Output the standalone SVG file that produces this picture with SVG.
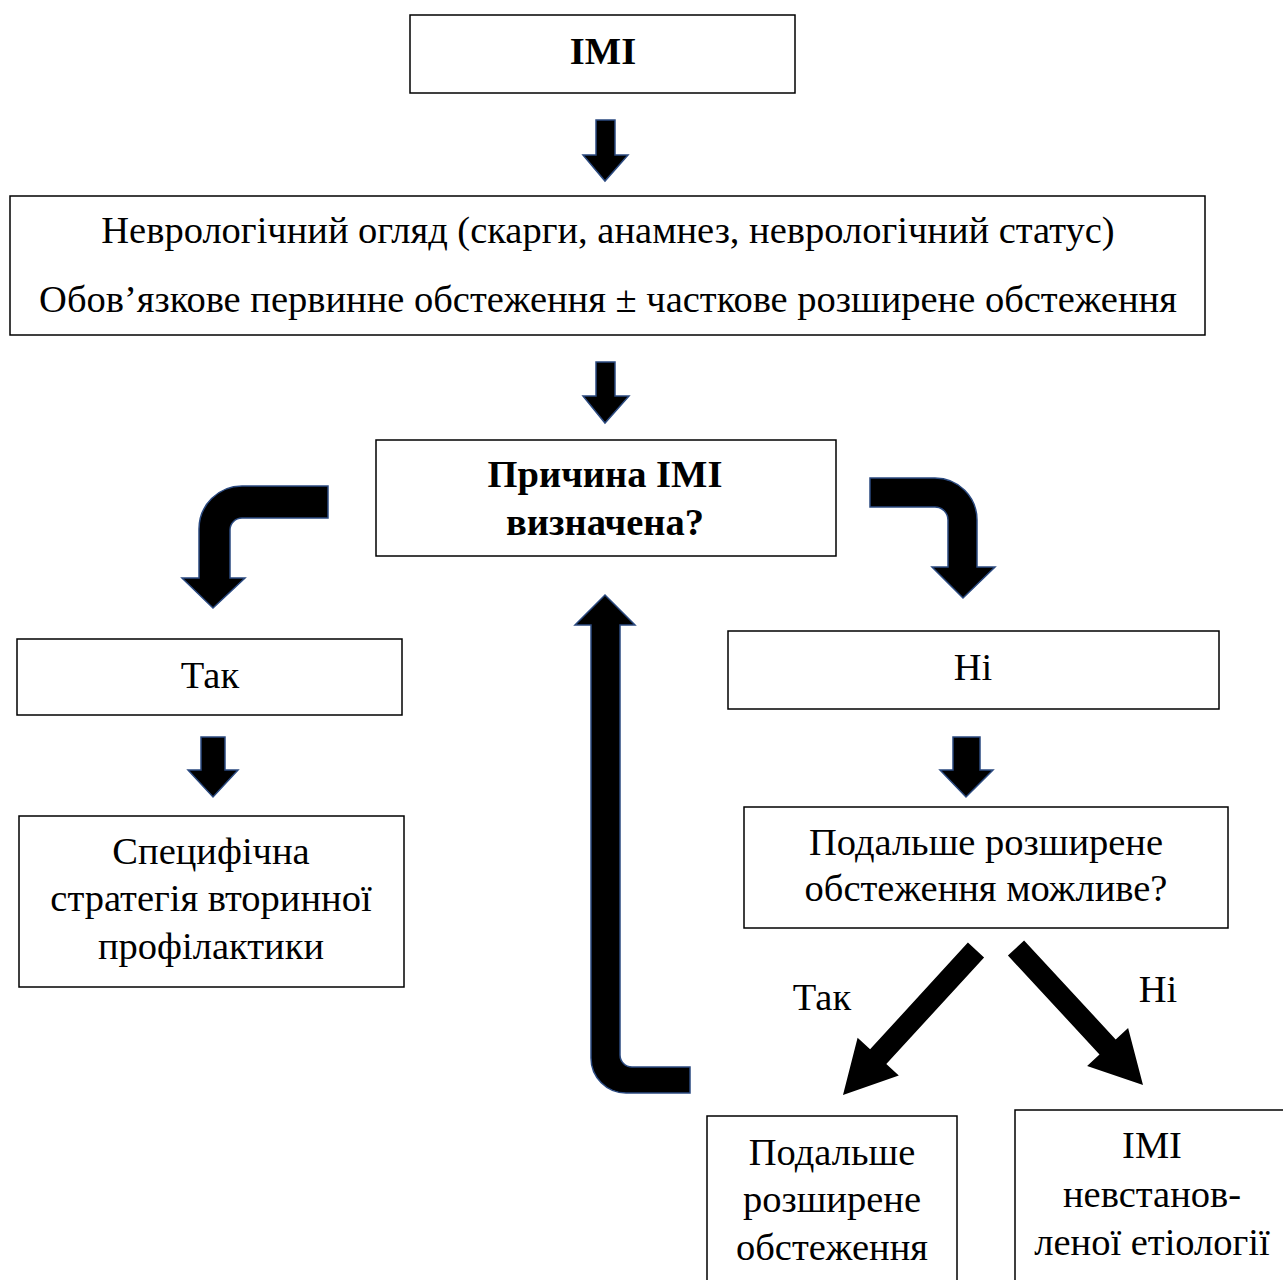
<svg xmlns="http://www.w3.org/2000/svg" width="1283" height="1280" viewBox="0 0 1283 1280">
<style>
.box{fill:#fff;stroke:#000;stroke-width:1.5}
.t{font-family:"Liberation Serif","Times New Roman",serif;font-size:38.5px;fill:#000;text-anchor:middle}
.b{font-weight:bold}
.ar{fill:#000;stroke:#2b4a80;stroke-width:1.5;stroke-linejoin:miter}
.da{fill:#000}
</style>
<rect width="1283" height="1280" fill="#fff"/>
<g id="connectors">
<polygon class="ar" points="596,120 615,120 615,155 628,155 605,181 583,155 596,155"/>
<polygon class="ar" points="596,362 615,362 615,396 629,396 605,423 583,396 596,396"/>
<path class="ar" d="M328 486 L242 486 A43 43 0 0 0 199 529 L199 578 L182 578 L213 608 L245 578 L230 578 L230 530 A12 12 0 0 1 242 518 L328 518 Z"/>
<path class="ar" d="M870 478 L935 478 A42 42 0 0 1 977 520 L977 567 L995 567 L963 598 L932 567 L948 567 L948 520 A13 13 0 0 0 935 507 L870 507 Z"/>
<path class="ar" d="M605 595 L635 625 L620 625 L620 1055 A12 12 0 0 0 632 1067 L690 1067 L690 1093 L626 1093 A35 35 0 0 1 591 1058 L591 625 L575 625 Z"/>
<polygon class="ar" points="201,737 225,737 225,770 238,770 213,797 188,770 201,770"/>
<polygon class="ar" points="953,737 980,737 980,770 993,770 966,797 940,770 953,770"/>
<polygon class="da" points="984.1,957.4 886.3,1064.1 898.8,1075.6 843,1095 857.6,1037.8 870.1,1049.3 967.9,942.6"/>
<polygon class="da" points="1024.1,940.5 1115.7,1039.4 1128.1,1027.9 1143,1085 1087.1,1065.9 1099.5,1054.4 1007.9,955.5"/>
<text class="t" x="822" y="1010">Так</text>
<text class="t" x="1158" y="1002">Ні</text>
</g>
<g id="n1"><rect class="box" x="410" y="15" width="385" height="78"/><text class="t b" x="603" y="64">ІМІ</text></g>
<g id="n2"><rect class="box" x="10" y="196" width="1195" height="139"/>
<text class="t" x="608" y="243">Неврологічний огляд (скарги, анамнез, неврологічний статус)</text>
<text class="t" x="608" y="312">Обов’язкове первинне обстеження ± часткове розширене обстеження</text></g>
<g id="n3"><rect class="box" x="376" y="440" width="460" height="116"/>
<text class="t b" x="605" y="487">Причина ІМІ</text><text class="t b" x="605" y="535">визначена?</text></g>
<g id="n4"><rect class="box" x="17" y="639" width="385" height="76"/><text class="t" x="210" y="688">Так</text></g>
<g id="n5"><rect class="box" x="728" y="631" width="491" height="78"/><text class="t" x="973" y="680">Ні</text></g>
<g id="n6"><rect class="box" x="19" y="816" width="385" height="171"/>
<text class="t" x="211" y="864">Специфічна</text><text class="t" x="211" y="911">стратегія вторинної</text><text class="t" x="211" y="959">профілактики</text></g>
<g id="n7"><rect class="box" x="744" y="807" width="484" height="121"/>
<text class="t" x="986" y="855">Подальше розширене</text><text class="t" x="986" y="901">обстеження можливе?</text></g>
<g id="n8"><rect class="box" x="707" y="1116" width="250" height="180"/>
<text class="t" x="832" y="1165">Подальше</text><text class="t" x="832" y="1212">розширене</text><text class="t" x="832" y="1260">обстеження</text></g>
<g id="n9"><rect class="box" x="1015" y="1110" width="290" height="190"/>
<text class="t" x="1152" y="1158">ІМІ</text><text class="t" x="1152" y="1207">невстанов-</text><text class="t" x="1152" y="1255">леної етіології</text></g>
</svg>
